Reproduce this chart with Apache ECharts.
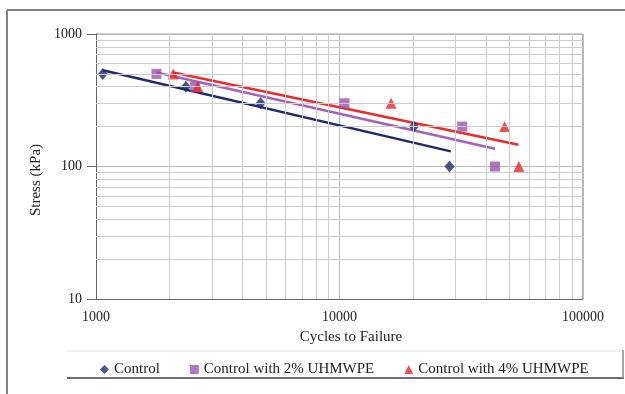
<!DOCTYPE html>
<html>
<head>
<meta charset="utf-8">
<script src="https://cdn.jsdelivr.net/npm/echarts@6/dist/echarts.min.js"></script>
<style>
  html, body { margin: 0; padding: 0; background: #fff; }
  #main { width: 625px; height: 394px; }
</style>
</head>
<body>
<div id="main"></div>
<script>
// measured points (cycles, stress kPa)
var control = [[1066, 500], [2340, 400], [4740, 300], [20200, 200], [28300, 100]];
var uhmwpe2 = [[1771, 500], [2553, 400], [10480, 300], [31930, 200], [43500, 100]];
var uhmwpe4 = [[2075, 500], [2618, 400], [16290, 300], [47650, 200], [54520, 100]];

// power trend lines, end points
var controlTrend = [[1066, 533], [28640, 130]];
var uhmwpe2Trend = [[1771, 512], [43500, 136]];
var uhmwpe4Trend = [[2075, 512], [54300, 146]];

var names = ['Control', 'Control with 2% UHMWPE', 'Control with 4% UHMWPE'];

// minor grid values
var xMinor = [2000, 3000, 4000, 5000, 6000, 7000, 8000, 9000,
              20000, 30000, 40000, 50000, 60000, 70000, 80000, 90000];
var yMinor = [20, 30, 40, 50, 60, 70, 80, 90, 200, 300, 400, 500, 600, 700, 800, 900];

var navy = '#1f2a6b', purple = '#9b55b0', red = '#e8262b';
var font = 'Liberation Serif';

var minorLines = [];
xMinor.forEach(function (v) { minorLines.push({ xAxis: v }); });
yMinor.forEach(function (v) { minorLines.push({ yAxis: v }); });

function plain(v) { return String(Math.round(v)); }

var myChart = echarts.init(document.getElementById('main'));
var option = {
  animation: false,
  textStyle: { fontFamily: font },
  grid: { left: 96, right: 42, top: 34, bottom: 95 },
  legend: {
    data: [
      { name: names[0], icon: 'diamond' },
      { name: names[1], icon: 'rect' },
      { name: names[2], icon: 'triangle' }
    ],
    left: 95, top: 357,
    itemWidth: 9, itemHeight: 9, itemGap: 30,
    textStyle: { fontFamily: font, fontSize: 15, color: '#222' }
  },
  xAxis: {
    type: 'log', logBase: 10, min: 1000, max: 100000, interval: 1,
    name: 'Cycles to Failure', nameLocation: 'middle', nameGap: 31,
    nameTextStyle: { fontFamily: font, fontSize: 15, color: '#222', padding: [0, 0, 0, 23] },
    axisLine: { lineStyle: { color: '#666', width: 1 } },
    axisTick: { show: false },
    axisLabel: { fontFamily: font, fontSize: 14, color: '#222', margin: 11, formatter: plain },
    splitLine: { show: true, lineStyle: { color: '#bbb', width: 1 } }
  },
  yAxis: {
    type: 'log', logBase: 10, min: 10, max: 1000, interval: 1,
    name: 'Stress (kPa)', nameLocation: 'middle', nameGap: 52,
    nameTextStyle: { fontFamily: font, fontSize: 15, color: '#222', padding: [0, 27, 0, 0] },
    axisLine: { show: true, lineStyle: { color: '#666', width: 1 } },
    axisTick: { show: true, length: 9, lineStyle: { color: '#666' } },
    axisLabel: { fontFamily: font, fontSize: 14, color: '#222', margin: 14, formatter: plain },
    splitLine: { show: true, lineStyle: { color: '#bbb', width: 1 } }
  },
  graphic: [
    // chart frame
    { type: 'line', shape: { x1: 7, y1: 10, x2: 625, y2: 10 }, style: { stroke: '#808080', lineWidth: 2 }, silent: true },
    { type: 'line', shape: { x1: 7, y1: 10, x2: 7, y2: 394 }, style: { stroke: '#808080', lineWidth: 2 }, silent: true },
    // plot border top / right
    { type: 'line', shape: { x1: 96, y1: 34, x2: 583, y2: 34 }, style: { stroke: '#999', lineWidth: 1 }, silent: true },
    { type: 'line', shape: { x1: 583, y1: 34, x2: 583, y2: 299 }, style: { stroke: '#999', lineWidth: 1.5 }, silent: true },
    // legend box
    { type: 'line', shape: { x1: 67, y1: 351, x2: 624, y2: 351 }, style: { stroke: '#e2e2e2', lineWidth: 1 }, silent: true },
    { type: 'line', shape: { x1: 67, y1: 378, x2: 624, y2: 378 }, style: { stroke: '#6e6e6e', lineWidth: 2 }, silent: true },
    { type: 'line', shape: { x1: 623, y1: 350, x2: 623, y2: 378 }, style: { stroke: '#8a8a8a', lineWidth: 1.5 }, silent: true }
  ],
  series: [
    {
      name: 'minor', type: 'line', data: [], z: 1, silent: true,
      markLine: {
        silent: true, symbol: 'none', animation: false,
        label: { show: false },
        lineStyle: { color: '#cdcdcd', width: 1, type: 'solid' },
        data: minorLines
      }
    },
    { name: 'ct', type: 'line', data: controlTrend, showSymbol: false, symbol: 'none', z: 3,
      lineStyle: { color: navy, width: 2.5 } },
    { name: 't2', type: 'line', data: uhmwpe2Trend, showSymbol: false, symbol: 'none', z: 3,
      lineStyle: { color: '#a55fbd', width: 2.5 } },
    { name: 't4', type: 'line', data: uhmwpe4Trend, showSymbol: false, symbol: 'none', z: 3,
      lineStyle: { color: '#ee2a2a', width: 2.5 } },
    { name: names[0], type: 'scatter', data: control, symbol: 'diamond', symbolSize: [10, 12], z: 4,
      itemStyle: { color: navy } },
    { name: names[1], type: 'scatter', data: uhmwpe2, symbol: 'rect', symbolSize: 10, z: 4,
      itemStyle: { color: purple } },
    { name: names[2], type: 'scatter', data: uhmwpe4, symbol: 'triangle', symbolSize: 11, z: 4,
      itemStyle: { color: red } }
  ]
};
myChart.setOption(option);
</script>
</body>
</html>
